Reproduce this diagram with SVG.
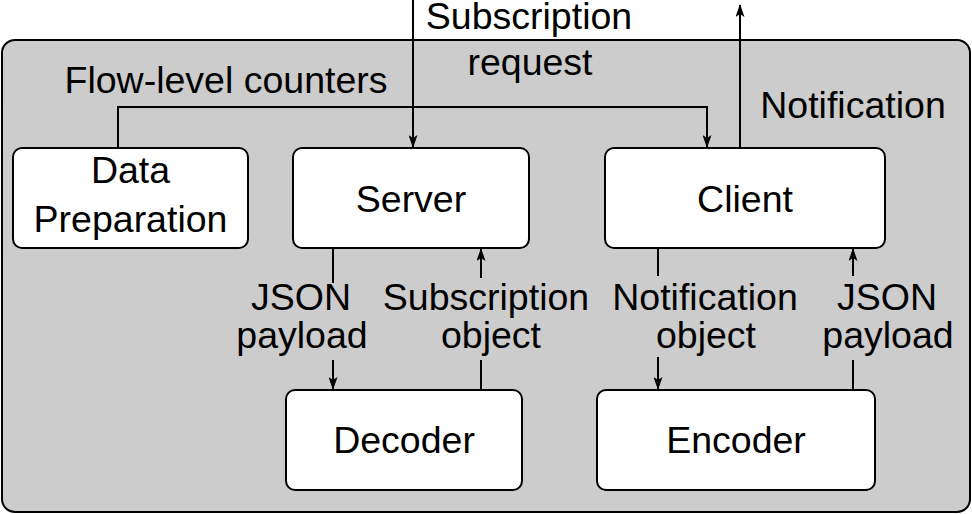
<svg xmlns="http://www.w3.org/2000/svg" width="972" height="514" viewBox="0 0 972 514">
<defs>
<marker id="ah" markerWidth="13" markerHeight="9" refX="12" refY="4.5" orient="auto" markerUnits="userSpaceOnUse" viewBox="0 0 13 9">
<path d="M0,0 L13,4.5 L0,9 L3,4.5 Z" fill="#000"/>
</marker>
</defs>
<style>
.box{fill:#fff;stroke:#000;stroke-width:2}
.t{font-family:"Liberation Sans",Arial,sans-serif;font-size:37.5px;fill:#000;text-anchor:middle}
.c{fill:none;stroke:#000;stroke-width:2}
</style>
<rect x="2" y="40" width="968" height="472" rx="13" fill="#cccccc" stroke="#000" stroke-width="2"/>
<g id="connectors">
<path class="c" d="M118,148 V107 H707 V147" marker-end="url(#ah)"/>
<path class="c" d="M413,0 V147" marker-end="url(#ah)"/>
<path class="c" d="M740,148 V5" marker-end="url(#ah)"/>
<path class="c" d="M333,248 V283"/>
<path class="c" d="M333,360 V389" marker-end="url(#ah)"/>
<path class="c" d="M481,390 V360"/>
<path class="c" d="M481,278 V249" marker-end="url(#ah)"/>
<path class="c" d="M658,248 V276"/>
<path class="c" d="M658,357 V389" marker-end="url(#ah)"/>
<path class="c" d="M853,390 V360"/>
<path class="c" d="M853,276 V249" marker-end="url(#ah)"/>
<text class="t" x="226" y="93">Flow-level counters</text>
<text class="t" x="529" y="29">Subscription</text>
<text class="t" x="530" y="75">request</text>
<text class="t" x="853" y="118">Notification</text>
<text class="t" x="301" y="310">JSON</text>
<text class="t" x="302" y="348">payload</text>
<text class="t" x="486" y="310">Subscription</text>
<text class="t" x="491" y="348">object</text>
<text class="t" x="705" y="310">Notification</text>
<text class="t" x="706" y="348">object</text>
<text class="t" x="887" y="310">JSON</text>
<text class="t" x="888" y="348">payload</text>
</g>
<g id="data-preparation">
<rect class="box" x="13" y="148" width="235" height="100" rx="9"/>
<text class="t" x="130.5" y="183">Data</text>
<text class="t" x="130.5" y="232">Preparation</text>
</g>
<g id="server">
<rect class="box" x="293" y="148" width="236" height="100" rx="9"/>
<text class="t" x="411" y="212">Server</text>
</g>
<g id="client">
<rect class="box" x="605" y="148" width="280" height="100" rx="9"/>
<text class="t" x="745" y="212">Client</text>
</g>
<g id="decoder">
<rect class="box" x="286" y="390" width="236" height="100" rx="9"/>
<text class="t" x="404" y="453">Decoder</text>
</g>
<g id="encoder">
<rect class="box" x="597" y="390" width="278" height="100" rx="9"/>
<text class="t" x="736" y="453">Encoder</text>
</g>
</svg>
